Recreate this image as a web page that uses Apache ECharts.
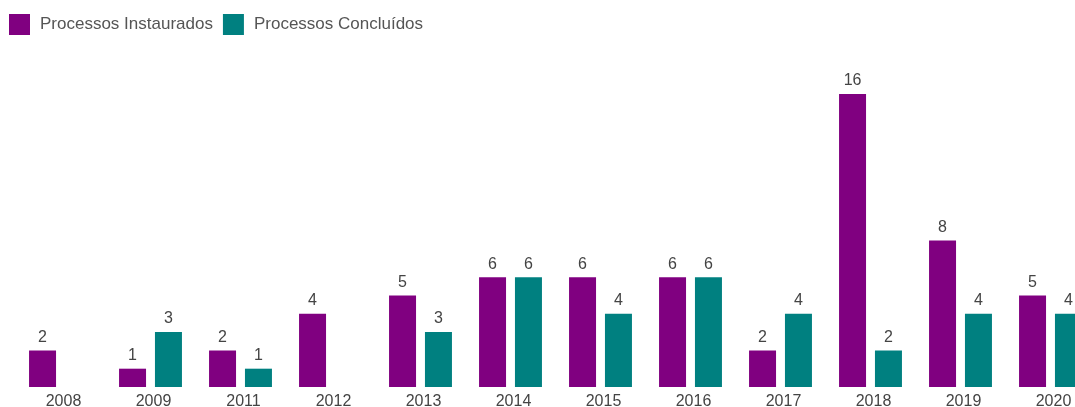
<!DOCTYPE html>
<html>
<head>
<meta charset="utf-8">
<style>
  html, body { margin: 0; padding: 0; background: #ffffff; }
  #chart { width: 1075px; height: 407px; }
</style>
<script src="https://cdn.jsdelivr.net/npm/echarts@6/dist/echarts.min.js"></script>
</head>
<body>
<div id="chart"></div>
<script>
// Years shown on the category axis
const years = ['2008', '2009', '2011', '2012', '2013', '2014', '2015', '2016', '2017', '2018', '2019', '2020'];
// Opened proceedings per year
const instaurados = [2, 1, 2, 4, 5, 6, 6, 6, 2, 16, 8, 5];
// Concluded proceedings per year (null = none)
const concluidos = [null, 3, 1, null, 3, 6, 4, 6, 4, 2, 4, 4];

const FONT = '"Liberation Sans", Arial, sans-serif';

const chart = echarts.init(document.getElementById('chart'), null, { renderer: 'canvas' });

const labelStyle = {
  show: true,
  position: 'top',
  distance: 5,
  color: '#444',
  fontSize: 16,
  fontFamily: FONT
};

chart.setOption({
  animation: false,
  textStyle: { fontFamily: FONT },
  legend: {
    left: 4,
    top: 9,
    itemWidth: 21,
    itemHeight: 21,
    itemGap: 10,
    icon: 'rect',
    textStyle: { color: '#555', fontSize: 17, fontFamily: FONT, padding: [0, 0, 0, 5] },
    data: ['Processos Instaurados', 'Processos Concluídos']
  },
  grid: {
    left: 15.5,
    right: -20.5,
    top: 94,
    height: 293,
    containLabel: false,
    outerBoundsMode: 'none'
  },
  xAxis: {
    type: 'category',
    data: years,
    axisLine: { show: false },
    axisTick: { show: false },
    axisLabel: {
      color: '#444',
      fontSize: 16,
      fontFamily: FONT,
      margin: 7,
      padding: [0, 0, 0, 6]
    }
  },
  yAxis: {
    type: 'value',
    min: 0,
    max: 16,
    show: false,
    splitLine: { show: false }
  },
  series: [
    {
      name: 'Processos Instaurados',
      type: 'bar',
      data: instaurados,
      barWidth: 27,
      barGap: '33%',
      itemStyle: { color: '#800080' },
      label: labelStyle
    },
    {
      name: 'Processos Concluídos',
      type: 'bar',
      data: concluidos,
      barWidth: 27,
      barGap: '33%',
      itemStyle: { color: '#008080' },
      label: labelStyle
    }
  ]
});
</script>
</body>
</html>
